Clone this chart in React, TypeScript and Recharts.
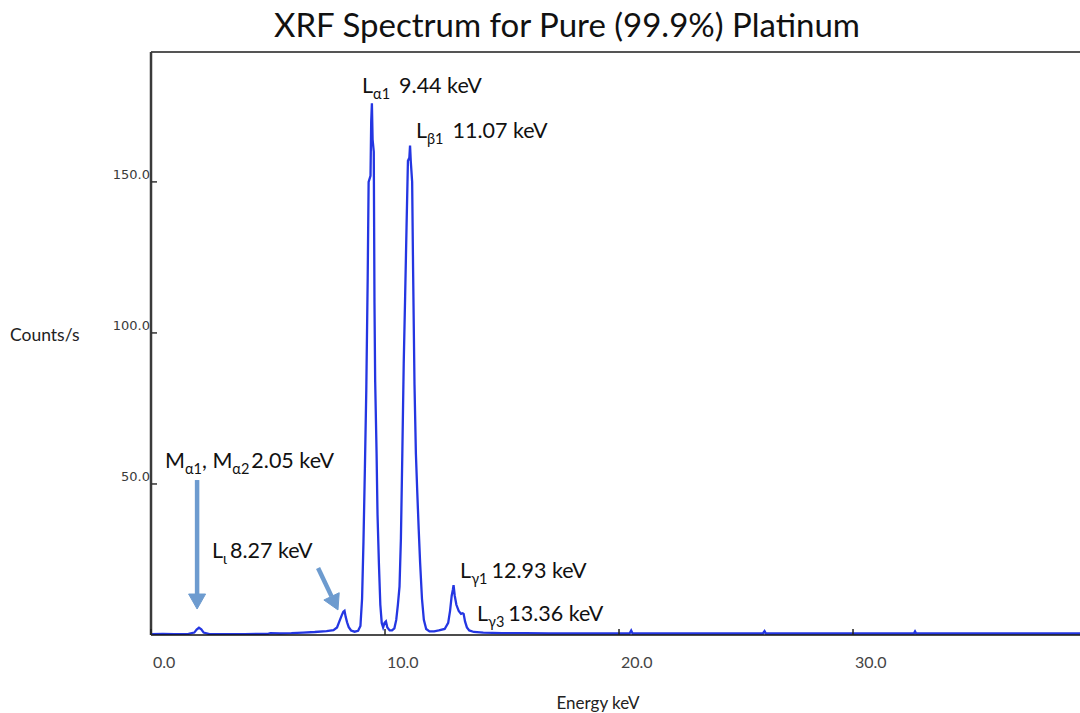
import React from 'react';
import { LineChart, Line, XAxis, YAxis, ReferenceLine, ReferenceDot } from 'recharts';

// Measured spectrum: energy (keV) and count rate (counts/s)
const energyKeV = [
  0.0, 0.5, 1.0, 1.6, 1.85, 1.95, 2.05, 2.15, 2.25, 2.5, 3.0, 4.0, 5.0, 5.1, 5.5, 6.0, 6.5, 7.0, 7.5, 7.8,
  7.95, 8.05, 8.15, 8.22, 8.27, 8.32, 8.38, 8.45, 8.55, 8.7, 8.85, 8.95,
  9.02, 9.08, 9.14, 9.2, 9.26, 9.3, 9.38, 9.41, 9.44, 9.47, 9.52, 9.55, 9.58, 9.64, 9.68, 9.74, 9.8, 9.86,
  9.92, 9.98, 10.04, 10.1, 10.2, 10.3, 10.4, 10.48, 10.55, 10.62, 10.68, 10.74, 10.8, 10.86, 10.92, 10.98,
  11.04, 11.07, 11.1, 11.16, 11.2, 11.26, 11.32, 11.38, 11.44, 11.5, 11.58, 11.66, 11.76, 11.9, 12.1, 12.3,
  12.55, 12.7, 12.78, 12.85, 12.9, 12.93, 12.98, 13.05, 13.15, 13.25, 13.32, 13.36, 13.42, 13.5, 13.6, 13.8,
  14.2, 15.0, 16.0, 17.0, 18.0, 19.0, 20.45, 20.52, 20.58, 22.0, 24.0, 26.15, 26.22, 26.28, 28.0, 30.0,
  32.6, 32.65, 32.7, 35.0, 37.0, 39.7,
];
const countsPerSec = [
  0.3, 0.4, 0.3, 0.4, 0.8, 1.8, 2.4, 1.9, 0.8, 0.3, 0.3, 0.3, 0.4, 0.6, 0.5, 0.6, 0.8, 1.0, 1.3, 1.6,
  2.5, 4.5, 6.5, 7.7, 8.0, 6.0, 4.2, 2.6, 1.5, 1.1, 1.4, 3.0,
  12, 31, 55, 81, 118, 150, 152, 170, 176, 164, 160, 110, 84, 60, 40, 23.5, 10, 4,
  2.5, 4, 4.5, 2.5, 1.5, 1.5, 2.2, 5, 10, 16, 32, 60, 90, 112, 135, 157,
  158, 162, 157, 150, 121, 83, 60, 47, 35, 24, 12, 5, 2, 1.2, 1.2, 1.5,
  2.0, 4.0, 8, 13, 15, 16.5, 13, 10, 8, 7, 7.2, 7, 4.5, 2.5, 1.5, 1.0,
  0.8, 0.6, 0.6, 0.5, 0.5, 0.5, 0.5, 1.5, 0.5, 0.5, 0.5, 0.5, 1.3, 0.5, 0.5, 0.5,
  0.5, 1.2, 0.5, 0.5, 0.5, 0.5,
];

const xTicks = [0, 10, 20, 30];
const yTicks = [50, 100, 150];

// Emission-line labels: text anchor in (keV, counts/s)
type Part = { t: string; sub?: boolean; gap?: number };
const lineLabels: { id: string; energy: number; counts: number; parts: Part[] }[] = [
  { id: 'La1', energy: 9.02, counts: 179.5, parts: [{ t: 'L' }, { t: 'α1', sub: true }, { t: '9.44 keV', gap: 9 }] },
  { id: 'Lb1', energy: 11.32, counts: 164.6, parts: [{ t: 'L' }, { t: 'β1', sub: true }, { t: '11.07 keV', gap: 9 }] },
  {
    id: 'Ma', energy: 0.6, counts: 55.3,
    parts: [{ t: 'M' }, { t: 'α1', sub: true }, { t: ', M' }, { t: 'α2', sub: true }, { t: '2.05 keV', gap: 2 }],
  },
  { id: 'Li', energy: 2.61, counts: 25.5, parts: [{ t: 'L' }, { t: 'ι', sub: true }, { t: '8.27 keV', gap: 3 }] },
  { id: 'Lg1', energy: 13.21, counts: 18.9, parts: [{ t: 'L' }, { t: 'γ1', sub: true }, { t: '12.93 keV', gap: 4 }] },
  { id: 'Lg3', energy: 13.93, counts: 4.6, parts: [{ t: 'L' }, { t: 'γ3', sub: true }, { t: '13.36 keV', gap: 4 }] },
];

// Pointer arrows: tail -> tip in (keV, counts/s)
const pointerArrows = [
  { id: 'toMa', from: { x: 1.97, y: 51.3 }, to: { x: 1.97, y: 8.6 } },
  { id: 'toLi', from: { x: 7.14, y: 22.2 }, to: { x: 7.99, y: 8.3 } },
];

const spectrum = energyKeV.map((e, i) => ({ energy: e, counts: countsPerSec[i] }));

const LABEL_FONT = 'Lato, "Open Sans", sans-serif';
const SPECTRUM_BLUE = '#2436e2';
const ARROW_BLUE = '#6d9bcf';

const XTick = (props: any) => {
  const { x, y, payload } = props;
  return (
    <g>
      <line x1={x} y1={y} x2={x} y2={y - 6} stroke="#222" strokeWidth={1.5} />
      <text x={x + 2} y={y + 33} textAnchor="start" fontFamily={LABEL_FONT} fontSize={16} fill="#444">
        {Number(payload.value).toFixed(1)}
      </text>
    </g>
  );
};

const YTick = (props: any) => {
  const { x, y, payload } = props;
  return (
    <g>
      <line x1={x} y1={y} x2={x + 6} y2={y} stroke="#333" strokeWidth={1.5} />
      <text x={x - 1} y={y - 3} textAnchor="end" fontFamily='"DejaVu Sans", sans-serif' fontSize={13} fill="#3a3a3a">
        {Number(payload.value).toFixed(1)}
      </text>
    </g>
  );
};

const LineLabel = ({ cx, cy, parts }: any) => {
  if (cx == null || cy == null) return null;
  const nodes: React.ReactNode[] = [];
  let lowered = false;
  parts.forEach((p: Part, i: number) => {
    if (p.sub) {
      nodes.push(
        <tspan key={i} fontSize={14.5} dy={lowered ? 0 : 6}>
          {p.t}
        </tspan>
      );
      lowered = true;
    } else {
      nodes.push(
        <tspan key={i} dy={lowered ? -6 : 0} dx={p.gap ?? 0}>
          {p.t}
        </tspan>
      );
      lowered = false;
    }
  });
  return (
    <text x={cx} y={cy} fontFamily={LABEL_FONT} fontSize={21.5} fill="#111" xmlSpace="preserve">
      {nodes}
    </text>
  );
};

const ArrowShape = (props: any) => {
  const { x1, y1, x2, y2 } = props;
  if ([x1, y1, x2, y2].some((v) => v == null || Number.isNaN(v))) return null;
  const ang = Math.atan2(y2 - y1, x2 - x1);
  const headLen = 15;
  const headHalf = 8.5;
  const bx = x2 - headLen * Math.cos(ang);
  const by = y2 - headLen * Math.sin(ang);
  const px = -Math.sin(ang) * headHalf;
  const py = Math.cos(ang) * headHalf;
  return (
    <g>
      <line x1={x1} y1={y1} x2={bx} y2={by} stroke={ARROW_BLUE} strokeWidth={4.5} />
      <polygon
        points={`${x2},${y2} ${bx + px},${by + py} ${bx - px},${by - py}`}
        fill={ARROW_BLUE}
        stroke={ARROW_BLUE}
        strokeWidth={1}
        strokeLinejoin="round"
      />
    </g>
  );
};

export default function App() {
  return (
    <div
      style={{
        position: 'absolute',
        left: 0,
        top: 0,
        width: 1080,
        height: 713,
        overflow: 'hidden',
        background: '#fff',
      }}
    >
      <LineChart width={1080} height={713} data={spectrum} margin={{ top: 52, right: 0, bottom: 38, left: 91 }}>
        <XAxis
          dataKey="energy"
          type="number"
          domain={[0, 39.7]}
          ticks={xTicks}
          allowDataOverflow
          axisLine={{ stroke: '#111', strokeWidth: 1.5 }}
          tickLine={false}
          tickSize={0}
          tickMargin={0}
          tick={<XTick />}
          height={40}
        />
        <YAxis
          type="number"
          domain={[0, 193]}
          ticks={yTicks}
          allowDataOverflow
          axisLine={{ stroke: '#3a3a3a', strokeWidth: 2.5 }}
          tickLine={false}
          tickSize={0}
          tickMargin={0}
          tick={<YTick />}
          width={60}
        />
        <ReferenceLine y={193} stroke="#555" strokeWidth={2} />
        <Line
          type="linear"
          dataKey="counts"
          stroke={SPECTRUM_BLUE}
          strokeWidth={2.3}
          dot={false}
          isAnimationActive={false}
        />
        {pointerArrows.map((a) => (
          <ReferenceLine key={a.id} segment={[a.from, a.to]} ifOverflow="visible" shape={<ArrowShape />} />
        ))}
        {lineLabels.map((l) => (
          <ReferenceDot
            key={l.id}
            x={l.energy}
            y={l.counts}
            r={0}
            ifOverflow="visible"
            shape={(p: any) => <LineLabel {...p} parts={l.parts} />}
          />
        ))}
      </LineChart>
      <svg
        width={1080}
        height={713}
        style={{ position: 'absolute', left: 0, top: 0, pointerEvents: 'none' }}
      >
        <text x={567} y={37} textAnchor="middle" fontFamily={LABEL_FONT} fontSize={33} fill="#111">
          XRF Spectrum for Pure (99.9%) Platinum
        </text>
        <text x={10} y={341} fontFamily={LABEL_FONT} fontSize={17.5} fill="#222">
          Counts/s
        </text>
        <text x={598} y={709} textAnchor="middle" fontFamily={LABEL_FONT} fontSize={17} fill="#222">
          Energy keV
        </text>
      </svg>
    </div>
  );
}
